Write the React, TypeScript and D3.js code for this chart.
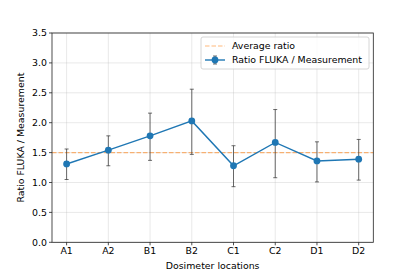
import React from "react";
import * as d3 from "d3";

const categories = ["A1", "A2", "B1", "B2", "C1", "C2", "D1", "D2"];
const ratios = [1.31, 1.54, 1.78, 2.03, 1.28, 1.67, 1.36, 1.39];
const errLow = [0.26, 0.26, 0.41, 0.56, 0.35, 0.59, 0.35, 0.35];
const errHigh = [0.25, 0.24, 0.38, 0.53, 0.335, 0.55, 0.32, 0.33];
const averageRatio = 1.5;
const yTicks = [0, 0.5, 1, 1.5, 2, 2.5, 3, 3.5];

const W = 415, H = 277;
const M = { left: 52, right: 373.3, top: 33, bottom: 242.3 };
const FONT = "DejaVu Sans, sans-serif";
const FS = 9.4;

export default function App() {
  const x = d3.scaleLinear().domain([-0.35, categories.length - 1 + 0.35]).range([M.left, M.right]);
  const y = d3.scaleLinear().domain([0, 3.5]).range([M.bottom, M.top]);
  const line = d3.line<number>().x((_, i) => x(i)).y((d) => y(d));
  const blue = "#1f77b4";
  const legX = 201, legY = 37;
  return (
    <svg width={W} height={H} style={{ position: "absolute", left: 0, top: 0 }} fontFamily={FONT}>
      <rect width={W} height={H} fill="white" />
      {categories.map((_, i) => (
        <line key={"gx" + i} x1={x(i)} x2={x(i)} y1={M.top} y2={M.bottom} stroke="#b0b0b0" strokeOpacity={0.35} strokeWidth={0.8} />
      ))}
      {yTicks.map((t) => (
        <line key={"gy" + t} x1={M.left} x2={M.right} y1={y(t)} y2={y(t)} stroke="#b0b0b0" strokeOpacity={0.35} strokeWidth={0.8} />
      ))}
      <line x1={M.left} x2={M.right} y1={y(averageRatio)} y2={y(averageRatio)} stroke="#ff7f0e" strokeOpacity={0.55} strokeWidth={1.2} strokeDasharray="4.5,2" />
      {ratios.map((r, i) => (
        <g key={"e" + i} stroke="#333" strokeOpacity={0.8} strokeWidth={0.9}>
          <line x1={x(i)} x2={x(i)} y1={y(r - errLow[i])} y2={y(r + errHigh[i])} />
          <line x1={x(i) - 2} x2={x(i) + 2} y1={y(r - errLow[i])} y2={y(r - errLow[i])} />
          <line x1={x(i) - 2} x2={x(i) + 2} y1={y(r + errHigh[i])} y2={y(r + errHigh[i])} />
        </g>
      ))}
      <path d={line(ratios) || ""} fill="none" stroke={blue} strokeWidth={1.4} />
      {ratios.map((r, i) => (
        <circle key={"c" + i} cx={x(i)} cy={y(r)} r={3.4} fill={blue} />
      ))}
      <rect x={M.left} y={M.top} width={M.right - M.left} height={M.bottom - M.top} fill="none" stroke="#222" strokeWidth={0.8} />
      {yTicks.map((t) => (
        <g key={"yt" + t}>
          <line x1={M.left - 3} x2={M.left} y1={y(t)} y2={y(t)} stroke="#222" strokeWidth={0.8} />
          <text x={M.left - 5} y={y(t)} dy="0.35em" textAnchor="end" fontSize={FS} fill="#000">{t.toFixed(1)}</text>
        </g>
      ))}
      {categories.map((c, i) => (
        <g key={"xt" + i}>
          <line x1={x(i)} x2={x(i)} y1={M.bottom} y2={M.bottom + 3} stroke="#222" strokeWidth={0.8} />
          <text x={x(i)} y={M.bottom + 5} dy="0.75em" textAnchor="middle" fontSize={FS} fill="#000">{c}</text>
        </g>
      ))}
      <text x={(M.left + M.right) / 2} y={266} dy="0.35em" textAnchor="middle" fontSize={FS}>Dosimeter locations</text>
      <text transform={`translate(21,${(M.top + M.bottom) / 2}) rotate(-90)`} dy="0.35em" textAnchor="middle" fontSize={FS}>Ratio FLUKA / Measurement</text>
      <rect x={legX} y={legY} width={168} height={32} rx={2} fill="white" fillOpacity={0.8} stroke="#ccc" strokeWidth={0.8} />
      <line x1={legX + 4} x2={legX + 24} y1={legY + 9} y2={legY + 9} stroke="#ff7f0e" strokeOpacity={0.55} strokeWidth={1.2} strokeDasharray="4.5,2" />
      <text x={legX + 31} y={legY + 9} dy="0.35em" fontSize={FS}>Average ratio</text>
      <line x1={legX + 4} x2={legX + 24} y1={legY + 23} y2={legY + 23} stroke={blue} strokeWidth={1.4} />
      <line x1={legX + 14} x2={legX + 14} y1={legY + 19} y2={legY + 27} stroke="#333" strokeOpacity={0.8} strokeWidth={0.9} />
      <line x1={legX + 12} x2={legX + 16} y1={legY + 19} y2={legY + 19} stroke="#333" strokeOpacity={0.8} strokeWidth={0.9} />
      <line x1={legX + 12} x2={legX + 16} y1={legY + 27} y2={legY + 27} stroke="#333" strokeOpacity={0.8} strokeWidth={0.9} />
      <circle cx={legX + 14} cy={legY + 23} r={3.4} fill={blue} />
      <text x={legX + 31} y={legY + 23} dy="0.35em" fontSize={FS}>Ratio FLUKA / Measurement</text>
    </svg>
  );
}
